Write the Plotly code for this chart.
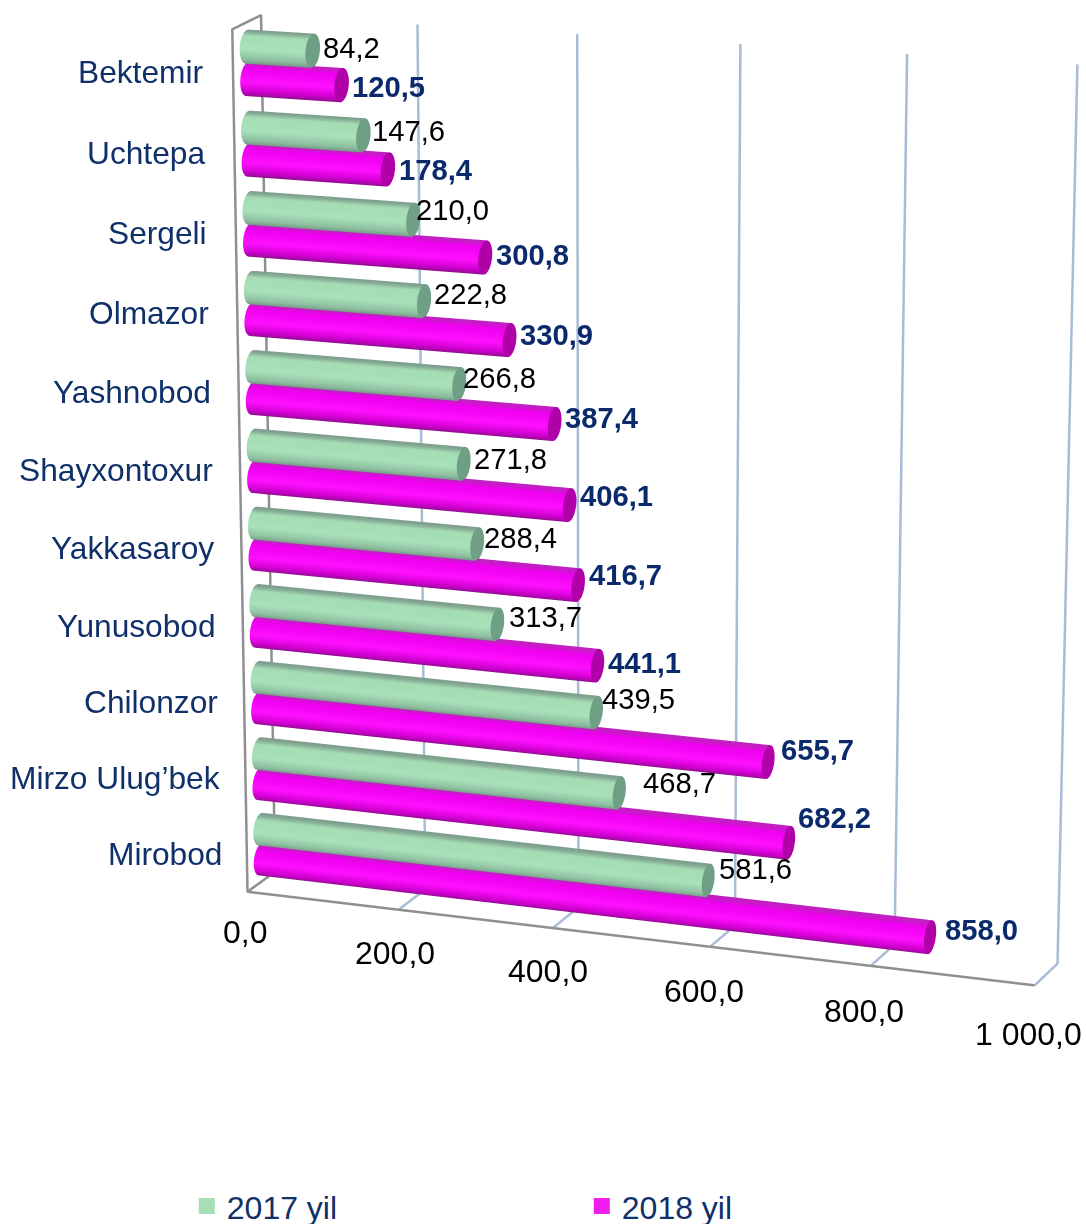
import numpy as np
import plotly.graph_objects as go

districts = ["Bektemir","Uchtepa","Sergeli","Olmazor","Yashnobod","Shayxontoxur","Yakkasaroy","Yunusobod","Chilonzor","Mirzo Ulug’bek","Mirobod"]
values_2017 = [84.2,147.6,210.0,222.8,266.8,271.8,288.4,313.7,439.5,468.7,581.6]
values_2018 = [120.5,178.4,300.8,330.9,387.4,406.1,416.7,441.1,655.7,682.2,858.0]
tick_vals = [0,200,400,600,800,1000]
tick_labels = ["0,0","200,0","400,0","600,0","800,0","1 000,0"]

W,H=1086,1224
n=len(districts)
# view of the 3-D box: camera, then how row height and depth lie in the scene
EYE=dict(x=0.0655,y=-1.3986,z=1.2085);CEN=dict(x=-0.1169,y=-0.0769,z=-0.1447)
HY,HZ,DY,DZ,DX,HX=0.7140,0.8204,0.0310,0.0064,0.0292,-0.1020
LY=(abs(HY)+abs(DY))*.7;LZ=(abs(HZ)+abs(DZ))*.7;LX=.5+(abs(HX)+abs(DX))*.7

def to_scene(v,h,d):
    """value v, row height h (0..n) and depth d (0..1) to scene x,y,z"""
    hh=np.asarray(h,float)/n-.5;dd=np.asarray(d,float)-.5
    return np.asarray(v,float)+1000*(DX*dd+HX*hh),HY*hh+DY*dd,HZ*hh+DZ*dd

green=[[0,"#6f8f7f"],[.22,"#8dbd9f"],[.55,"#a8e2ba"],[.9,"#a4dcb4"],[1,"#7f9f8f"]]
mag=[[0,"#80107f"],[.25,"#d000d0"],[.55,"#ff10ff"],[.9,"#f000f0"],[1,"#c020c0"]]
LIGHT=dict(ambient=1,diffuse=0,specular=0,fresnel=0,roughness=1)
R=0.205
Rd=0.26
th=np.linspace(0,2*np.pi,41)
fig=go.Figure()
def bar(v,z,scale,capcol):
    h=z+R*np.sin(th);d=.5+Rd*np.cos(th)
    X0,Y,Z=to_scene(0*th,h,d);X1,_,_=to_scene(v+0*th,h,d)
    fig.add_trace(go.Surface(x=np.array([X0,X1]),y=np.array([Y,Y]),z=np.array([Z,Z]),surfacecolor=(np.sin(th)[None,:].repeat(2,0)+1)/2,cmin=0,cmax=1,colorscale=scale,showscale=False,lighting=LIGHT,hoverinfo="skip"))
    Xc,Yc,Zc=to_scene(v+0*th,z+0*th,.5+0*th)
    fig.add_trace(go.Surface(x=np.array([Xc,X1]),y=np.array([Yc,Y]),z=np.array([Zc,Z]),surfacecolor=np.zeros((2,41)),cmin=0,cmax=1,colorscale=[[0,capcol],[1,capcol]],showscale=False,lighting=LIGHT,hoverinfo="skip"))
anns=[]
font="Liberation Sans, Arial, sans-serif"
def ann(v,h,d,text,**kw):
    x,y,z=to_scene(v,h,d)
    anns.append(dict(x=float(x),y=float(y),z=float(z),text=text,showarrow=False,**kw))
# hand placement of the labels, in pixels (right, down)
nudge_2017=[(2,-3),(1,-4),(-5,-10),(2,-7),(-4,-6),(2,-5),(-1,-6),(4,-7),(-2,-14),(16,-10),(3,-11)]
nudge_2018=[(2,2),(3,1),(3,-3),(2,-5),(2,-6),(2,-9),(3,-10),(2,-3),(5,-12),(1,-25),(7,-7)]
nudge_ticks=[(3,-5),(2,-2),(1,-2),(0,-1),(-1,0),(0,4)]
for i,d in enumerate(districts):
    z=n-.5-i
    bar(values_2017[i],z+.2,green,"#6f9f84")
    bar(values_2018[i],z-.2,mag,"#b000a8")
    ann(0,z,0,d,xanchor="right",xshift=-25-3+.5*i,yshift=-2+.2*i,font=dict(family=font,size=31.7,color="#10306a"))
    a,b=nudge_2017[i]
    ann(values_2017[i],z+.2,.5,f"{values_2017[i]:.1f}".replace(".",","),xanchor="left",xshift=6+a,yshift=-b,font=dict(family=font,size=29.2,color="black"))
    a,b=nudge_2018[i]
    ann(values_2018[i],z-.2,.5,f"<b>{values_2018[i]:.1f}</b>".replace(".",","),xanchor="left",xshift=6+a,yshift=-b,font=dict(family=font,size=29.2,color="#0b2a6b"))
for t,l,(a,b) in zip(tick_vals,tick_labels,nudge_ticks):
    ann(t,0,0,l,xshift=-6+a,yshift=-45-b,font=dict(family=font,size=32,color="black"))
def seg(vs,hs,ds,col,w):
    mask=[a is None for a in hs]
    x,y,z=to_scene([0 if a is None else a for a in vs],[0 if a is None else a for a in hs],[0 if a is None else a for a in ds])
    f=lambda arr:[None if m else float(a) for m,a in zip(mask,arr)]
    fig.add_trace(go.Scatter3d(x=f(x),y=f(y),z=f(z),mode="lines",line=dict(color=col,width=w),hoverinfo="skip",showlegend=False))
gx,gh,gd=[],[],[]
for t in tick_vals[1:]:
    gx+=[t,t,t,None];gh+=[0,0,n,None];gd+=[0,1,1,None]
seg(gx,gh,gd,"#a9bcd6",5)
seg([1000,0,0,0,0,0],[0,0,n,n,0,0],[0,0,0,1,1,0],"#8f8f8f",5)
for nm,c in (("2017 yil","#a6dfb5"),("2018 yil","#f01cf0")):
    fig.add_trace(go.Scatter(x=[None],y=[None],mode="markers",name=nm,marker=dict(symbol="square",size=16,color=c)))
ax=dict(showgrid=False,zeroline=False,showline=False,showticklabels=False,ticks="",showbackground=False,showspikes=False,title="")
fig.update_layout(width=W,height=H,margin=dict(l=0,r=0,t=0,b=0,autoexpand=False),paper_bgcolor="white",
 xaxis=dict(visible=False),yaxis=dict(visible=False),plot_bgcolor="rgba(0,0,0,0)",
 legend=dict(orientation="h",x=.172,y=-.008,xanchor="left",yanchor="bottom",entrywidth=350,font=dict(family=font,size=32,color="#10306a")),
 scene=dict(domain=dict(x=[0,1],y=[0,1]),aspectmode="manual",aspectratio=dict(x=2*LX,y=2*LY,z=2*LZ),
   camera=dict(eye=EYE,center=CEN,up=dict(x=0,y=0,z=1)),
   xaxis=dict(range=[500-1000*LX,500+1000*LX],**ax),yaxis=dict(range=[-LY,LY],**ax),zaxis=dict(range=[-LZ,LZ],**ax),annotations=anns))
fig.write_html("out.html",config=dict(displayModeBar=False),post_script="document.body.style.margin='0';window.dispatchEvent(new Event('resize'));")
